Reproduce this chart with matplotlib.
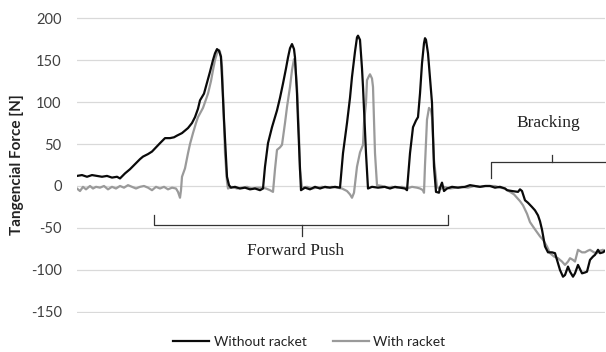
import matplotlib
matplotlib.use("Agg")
import matplotlib.pyplot as plt

plt.rcParams["axes.unicode_minus"] = False

# ── data (time in samples, force in N) ────────────────────────────────────────
T_WITHOUT = [0, 5, 10, 15, 20, 25, 30, 35, 40, 43, 48, 53, 58, 63, 66, 71, 75, 79, 83, 88,
             93, 97, 100, 105, 111, 115, 118, 121, 123, 127, 130, 133, 136, 138, 140, 142, 144,
             145, 147, 149, 150, 152, 154, 158, 163, 168, 173, 178, 183, 186, 188, 191, 195,
             200, 203, 206, 209, 211, 213, 215, 217, 218, 220, 221, 223, 224, 228, 233, 238,
             243, 248, 253, 258, 263, 266, 270, 273, 275, 278, 280, 281, 283, 285, 286, 289,
             291, 295, 301, 308, 313, 318, 323, 328, 330, 333, 336, 339, 341, 343, 345, 347,
             348, 349, 351, 355, 357, 359, 362, 363, 365, 367, 370, 375, 381, 388, 393, 398,
             403, 408, 413, 418, 423, 428, 430, 435, 441, 443, 445, 448, 451, 455, 458, 461,
             463, 465, 468, 471, 475, 478, 481, 483, 486, 488, 491, 493, 496, 498, 501, 503,
             505, 508, 510, 513, 516, 518, 521, 523, 526, 528]
F_WITHOUT = [12, 13, 11, 13, 12, 11, 12, 10, 11, 9, 15, 20, 26, 32, 35, 38, 41, 46, 51, 57,
             57, 58, 60, 63, 69, 75, 82, 92, 102, 110, 123, 136, 150, 158, 163, 161, 154,
             130, 79, 35, 11, 1, -2, -1, -3, -2, -4, -3, -5, -3, 23, 51, 70,
             90, 105, 122, 140, 153, 164, 169, 163, 153, 110, 78, 20, -5, -2, -4, -1,
             -3, -1, -2, -1, -2, 39, 75, 105, 130, 160, 177, 179, 174, 140, 118, 39,
             -3, -1, -2, -1, -3, -1, -2, -3, -5, 39, 70, 78, 82, 110, 146, 170,
             176, 174, 158, 99, 23, -7, -8, -2, 4, -6, -3, -1, -2, -1, 1, 0,
             -1, 0, 0, -2, -1, -3, -5, -6, -7, -4, -6, -17, -20, -25, -29,
             -35, -42, -52, -72, -79, -79, -80, -92, -100, -108, -106, -96, -102, -108, -104, -94,
             -99, -104, -103, -102, -88, -84, -82, -76, -80, -79, -77]

T_WITH = [0, 3, 6, 9, 13, 16, 19, 23, 27, 31, 35, 39, 43, 47, 51, 55, 59, 63, 67, 71, 75,
          79, 83, 87, 91, 95, 99, 101, 103, 104, 105, 108, 111, 113, 116, 119, 121, 126, 131,
          134, 136, 138, 140, 142, 143, 145, 146, 148, 150, 151, 155, 160, 165, 170, 175, 180,
          185, 189, 193, 196, 198, 200, 203, 205, 208, 210, 213, 215, 217, 218, 220, 222, 223,
          225, 230, 235, 240, 245, 250, 255, 260, 265, 270, 273, 275, 277, 280, 283, 286, 287,
          289, 290, 292, 293, 295, 296, 298, 300, 305, 310, 315, 320, 325, 330, 335, 340, 343,
          346, 347, 348, 350, 352, 354, 355, 357, 360, 363, 367, 373, 379, 385, 391, 397, 403,
          409, 413, 418, 423, 428, 433, 437, 440, 443, 446, 450, 453, 457, 460, 463, 466, 470,
          473, 477, 481, 485, 488, 491, 493, 496, 498, 501, 505, 508, 511, 513, 517, 520, 523,
          526, 528]
F_WITH = [-3, -6, -1, -4, 0, -3, -1, -2, 0, -4, -1, -3, 0, -2, 1, -1, -3, -1, 0, -2, -5,
          -1, -3, -1, -4, -2, -3, -7, -14, -5, 11, 21, 39, 50, 63, 75, 82, 93, 110,
          125, 138, 150, 158, 162, 160, 142, 110, 39, 5, -3, -1, -3, -2, -1, -3, -2,
          -2, -3, -5, -7, 20, 43, 46, 49, 75, 94, 118, 138, 151, 148, 118, 60, 19,
          -2, -1, -3, -2, -1, -2, -1, -2, -3, -6, -10, -14, -8, 23, 40, 49, 75,
          99, 126, 131, 133, 128, 118, 39, 1, 0, -2, -1, -2, -1, -3, -1, -2, -3,
          -5, -8, 25, 79, 93, 90, 82, 31, -1, -4, -1, -3, -2, -1, -2, 0,
          -1, 0, 0, 0, -2, -3, -7, -10, -14, -18, -23, -33, -43, -50, -55, -60,
          -64, -72, -80, -84, -86, -90, -94, -90, -86, -88, -90, -76, -79, -79, -77, -76,
          -79, -80, -77, -76, -78]

Y_TICKS = [-150, -100, -50, 0, 50, 100, 150, 200]

# ── figure ────────────────────────────────────────────────────────────────────
W, H = 606, 352
fig = plt.figure(figsize=(W / 100, H / 100), dpi=100)
ax = fig.add_axes([77 / W, (H - 312.8) / H, 528 / W, (312.8 - 17.2) / H])

ax.plot(T_WITHOUT, F_WITHOUT, color="#0a0a0a", lw=1.6, label="Without racket", zorder=3)
ax.plot(T_WITH, F_WITH, color="#9a9a9a", lw=1.6, label="With racket", zorder=2)

ax.set_xlim(0, 528)
ax.set_ylim(-151, 201)
ax.set_yticks(Y_TICKS)
ax.set_xticks([])
ax.grid(axis="y", color="#d9d9d9", lw=0.9, zorder=0)
for s in ax.spines.values():
    s.set_visible(False)
ax.tick_params(axis="y", length=0, pad=11, labelsize=10.5, labelcolor="#404040")
for lbl in ax.get_yticklabels():
    lbl.set_fontfamily("Lato")

ax.set_ylabel("Tangencial Force [N]", fontsize=11, fontweight="bold",
              family="Lato", color="#222222", labelpad=5)

# ── braces ────────────────────────────────────────────────────────────────────
bc = "#333333"
# Forward push (opens upward)
ax.plot([77, 77, 371, 371], [-34, -46, -46, -34], color=bc, lw=0.9, clip_on=False)
ax.plot([225, 225], [-46, -60], color=bc, lw=0.9)
ax.text(219, -77, "Forward Push", ha="center", va="center", fontsize=12.5,
        family="Liberation Serif", color="#222222")
# Braking (opens downward)
ax.plot([414, 414, 528], [10, 28, 28], color=bc, lw=0.9, clip_on=False)
ax.plot([475, 475], [28, 37], color=bc, lw=0.9)
ax.text(471, 75, "Bracking", ha="center", va="center", fontsize=12.5,
        family="Liberation Serif", color="#222222")

leg = ax.legend(loc="upper center", bbox_to_anchor=(0.44, -0.035), ncol=2, frameon=False,
                handlelength=2.6, columnspacing=1.9, handletextpad=0.3,
                prop={"family": "Lato", "size": 10})
for t in leg.get_texts():
    t.set_color("#222222")

fig.savefig("out.png", dpi=100)
